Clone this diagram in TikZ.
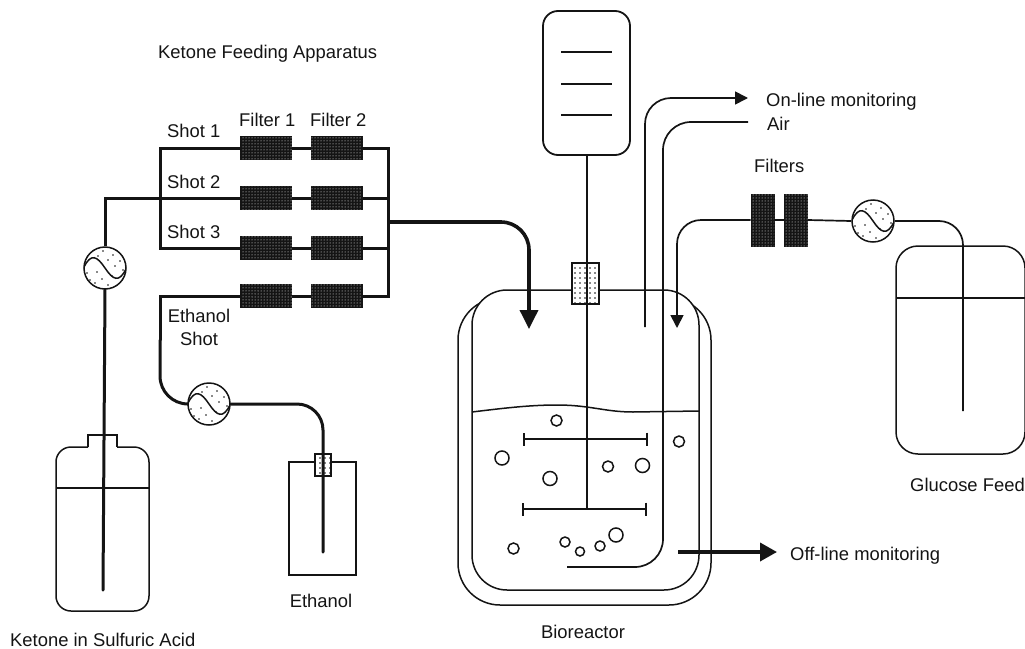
\documentclass[tikz,border=0pt]{standalone}
\usepackage{fontspec}
\setmainfont{Liberation Sans}
\usepackage{xcolor}
\usetikzlibrary{arrows.meta, patterns, patterns.meta, positioning, calc}
\definecolor{mydark}{RGB}{20,20,20}
\tikzset{
  label/.style={inner sep=0pt, anchor=base west, text=mydark,
    font=\fontsize{18.4}{23}\selectfont},
  clabel/.style={label, anchor=base},
  filterbox/.style={rectangle, draw=mydark, fill=mydark, inner sep=0pt,
    minimum width=51pt, minimum height=23pt, line width=0.6pt,
    postaction={pattern=dots, pattern color=white}},
  vfilter/.style={filterbox, minimum width=23pt, minimum height=52pt},
  plugbox/.style={rectangle, draw=mydark, fill=white, inner sep=0pt, line width=1.5pt,
    postaction={pattern={Dots[distance=5pt, radius=0.8pt]}, pattern color=mydark}},
  pump/.style={circle, draw=mydark, fill=white, minimum size=42pt, inner sep=0pt,
    line width=1.5pt,
    path picture={
      \begin{scope}[shift={(path picture bounding box.center)}]
        \foreach \dx/\dy in {-2/-17, 8/-13, -7/-12, 3/-8, 15/-7, 10/-2, 18/2,
          -18/5, -8/4, -3/11, -15/12, 3/17, -10/15, 7/8}
          \fill[mydark] (\dx,\dy) circle (0.8pt);
        \draw[mydark, line width=1.5pt] (-21,-1) .. controls (-14,-15) and (-8,-12) .. (0,0)
          .. controls (8,12) and (14,15) .. (21,1);
      \end{scope}
    }},
  vessel/.style={rectangle, draw=mydark, fill=white, inner sep=0pt, line width=1.5pt},
  bubble/.style={circle, draw=mydark, fill=white, inner sep=0pt, line width=1.5pt},
  wall/.style={draw=mydark, line width=1.5pt},
  pipe/.style={draw=mydark, line width=3pt, line cap=round},
  thinpipe/.style={draw=mydark, line width=3pt},
  tube/.style={draw=mydark, line width=1.7pt},
  shaft/.style={draw=mydark, line width=2pt},
  impeller/.style={draw=mydark, line width=1.7pt, {Bar[width=13pt]}-{Bar[width=13pt]}},
  bigarrow/.style={draw=mydark, line width=3.6pt, -{Triangle[length=19pt,width=18pt]}},
  smallarrow/.style={tube, -{Triangle[length=13pt,width=13pt]}}
}

\begin{document}
\begin{tikzpicture}[x=1pt, y=-1pt]
  \useasboundingbox (0,0) rectangle (1025,648);

  % Filter rows
  \foreach \row/\ypos in {1/148, 2/198, 3/248, 4/296} {
    \node[filterbox] (f\row1) at (266,\ypos) {};
    \node[filterbox] (f\row2) at (337,\ypos) {};
    \draw[thinpipe] (f\row1.east) -- (f\row2.west);
  }
  \coordinate (busL) at (160,198);
  \coordinate (busR) at (388,222);
  \draw[pipe] (f31.west) -| (busL) |- (f11.west);
  \draw[pipe] (f12.east) -| (busR) |- (f42.east);
  \draw[thinpipe] (f22.east) -- (f22.east -| busR);
  \draw[thinpipe] (f32.east) -- (f32.east -| busR);

  % Ketone bottle
  \draw[wall, rounded corners=15pt] (88,447) -- (56,447) -- (56,611) -- (149,611) -- (149,447) -- (117,447);
  \draw[wall] (88,447) -- (88,435) -- (117,435) -- (117,447);
  \draw[wall] (56,488) -- (149,488);
  \node[pump] (pumpk) at (105,268) {};
  \coordinate (ketonetip) at (103,590);
  \draw[pipe] (pumpk.south) -- (ketonetip);
  \draw[thinpipe] (pumpk.north) |- (f21.west);

  % Ethanol bottle
  \node[vessel, minimum width=67pt, minimum height=113pt] (ethbox) at (322.5,518.5) {};
  \node[plugbox, minimum width=16pt, minimum height=22pt] (ethplug) at (323,465) {};
  \node[pump] (pumpe) at (209,404) {};
  \coordinate (ethtip) at (323,552);
  \coordinate (ethbend) at (160,340);
  \draw[pipe] (f41.west) -| (ethbend);
  \draw[pipe, rounded corners=28pt] (ethbend) |- (pumpe.west);
  \draw[pipe, rounded corners=26pt] (pumpe.east) -| (ethtip);

  % Bioreactor
  \node[vessel, minimum width=253pt, minimum height=307pt, rounded corners=42pt] (jacket) at (584.5,451.5) {};
  \node[vessel, minimum width=227pt, minimum height=300pt, rounded corners=35pt] (reactor) at (585.5,440) {};
  \draw[wall] (472,412) .. controls (505,408) and (530,405) .. (557,405)
    .. controls (590,405) and (605,412) .. (633,412) -- (699,411);
  \node[vessel, minimum width=87pt, minimum height=144pt, rounded corners=15pt, line width=1.8pt] (bag) at (586.5,83) {};
  \draw[tube] (561,52) -- (612,52);
  \draw[tube] (561,84) -- (612,84);
  \draw[tube] (561,115) -- (612,115);
  \node[plugbox, minimum width=27pt, minimum height=41pt] (plug) at (585.5,283.5) {};
  \coordinate (impA1) at (523,439);
  \coordinate (impA2) at (648,439);
  \coordinate (impB1) at (522,509);
  \coordinate (impB2) at (647,509);
  \draw[shaft] (bag.south) -- (bag.south |- impB1);
  \draw[impeller] (impA1) -- (impA2);
  \draw[impeller] (impB1) -- (impB2);
  \foreach \cx/\cy/\dia [count=\i] in {556.5/420.5/11, 502/458/14, 550/478.5/14, 608/466.5/11,
    642.5/465.5/14, 679/441.5/11, 513.5/548.5/11, 565/542/10, 580/551.5/9, 600/546/10, 616/535/14}
    \node[bubble, minimum size=\dia pt] (b\i) at (\cx,\cy) {};

  % Gas lines and feed
  \coordinate (busout) at (388,222);
  \coordinate (feedtip) at (529,329);
  \draw[bigarrow, rounded corners=28pt] (busout) -| (feedtip);
  \coordinate (onA) at (645,327);
  \coordinate (onB) at (748,98);
  \draw[smallarrow, rounded corners=26pt] (onA) |- (onB);
  \coordinate (airA) at (748,122);
  \coordinate (airB) at (663,567);
  \coordinate (airC) at (567,567);
  \draw[tube, rounded corners=28pt] (airA) -| (airB) -- (airC);
  \coordinate (offA) at (678,552);
  \coordinate (offB) at (777,552);
  \draw[bigarrow, -{Triangle[length=17pt,width=18pt]}] (offA) -- (offB);

  % Glucose feed
  \node[vessel, minimum width=129pt, minimum height=208pt, rounded corners=22pt] (glutank) at (960.5,350) {};
  \draw[wall] (896,298) -- (1025,298);
  \node[pump] (pumpg) at (873,221) {};
  \coordinate (glutip) at (963,411);
  \coordinate (rtip) at (677,328);
  \node[vfilter] (g1) at (762.5,220) {};
  \node[vfilter] (g2) at (796,220) {};
  \draw[tube, rounded corners=24pt] (pumpg.east) -| (glutip);
  \draw[tube] (pumpg.west) -- (g2.east);
  \draw[tube] (g2.west) -- (g1.east);
  \draw[smallarrow, rounded corners=24pt] (g1.west) -| (rtip);

  % Labels
  \node[label] (ttl) at (158,58) {Ketone Feeding Apparatus};
  \node[label] (ls1) at (167,137) {Shot 1};
  \node[label] (ls2) at (167,188) {Shot 2};
  \node[label] (ls3) at (167,238) {Shot 3};
  \node[label] (lf1) at (239,126) {Filter 1};
  \node[label] (lf2) at (310,126) {Filter 2};
  \node[label, anchor=center, align=center] (lsh) at (199,327) {Ethanol\\Shot};
  \node[clabel] (leth) at (321,607) {Ethanol};
  \node[label] (lket) at (10,646) {Ketone in Sulfuric Acid};
  \node[clabel] (lbio) at (583,638) {Bioreactor};
  \node[label] (lon) at (766,106) {On-line monitoring};
  \node[label] (lair) at (767,130) {Air};
  \node[label] (lfil) at (754,172) {Filters};
  \node[label] (lglu) at (910,491) {Glucose Feed};
  \node[label] (loff) at (790,560) {Off-line monitoring};
\end{tikzpicture}
\end{document}
